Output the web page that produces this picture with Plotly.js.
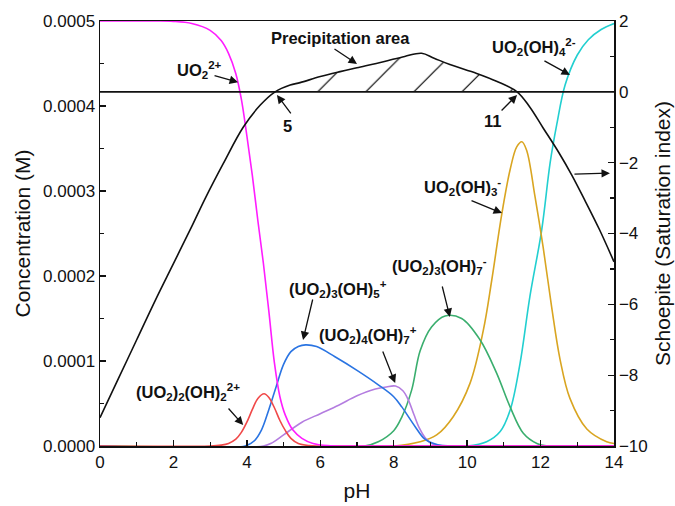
<!DOCTYPE html>
<html>
<head>
<meta charset="utf-8">
<script src="https://cdn.plot.ly/plotly-3.0.1.min.js"></script>
<style>
  html, body { margin: 0; padding: 0; background: #fff; }
  #chart { width: 675px; height: 506px; }
</style>
</head>
<body>
<div id="chart"></div>
<script>
// Uranyl speciation vs pH (left axis, M) and schoepite saturation index (right axis)

// UO2^2+
const phUO2 = [0, 1.5, 2.0, 2.5, 3.0, 3.3, 3.5, 3.7, 3.85, 4.0, 4.15, 4.3, 4.45, 4.6, 4.75, 4.9, 5.05, 5.25, 5.5, 5.8, 6.2, 7, 14];
const cUO2 = [5.0e-4, 5.0e-4, 4.995e-4, 4.97e-4, 4.89e-4, 4.77e-4, 4.62e-4, 4.38e-4, 4.08e-4, 3.65e-4, 3.18e-4, 2.65e-4, 2.15e-4, 1.58e-4, 9.8e-5, 5.8e-5, 3.6e-5, 1.9e-5, 9e-6, 3e-6, 5e-7, 0, 0];

// (UO2)2(OH)2^2+
const phUO2_2 = [0, 3.0, 3.3, 3.5, 3.7, 3.85, 4.0, 4.15, 4.3, 4.47, 4.6, 4.75, 4.9, 5.05, 5.2, 5.4, 5.7, 6.0, 14];
const cUO2_2 = [0, 0, 1e-6, 3e-6, 8e-6, 1.6e-5, 2.8e-5, 4.3e-5, 5.6e-5, 6.15e-5, 5.7e-5, 4.5e-5, 3.0e-5, 1.8e-5, 9e-6, 3e-6, 5e-7, 0, 0];

// (UO2)3(OH)5^+
const phUO2_35 = [0, 3.95, 4.2, 4.4, 4.6, 4.8, 5.0, 5.2, 5.4, 5.6, 5.9, 6.4, 7.0, 7.58, 8.0, 8.22, 8.58, 8.85, 9.2, 9.6, 14];
const cUO2_35 = [0, 0, 6e-6, 1.9e-5, 4.3e-5, 7.0e-5, 9.6e-5, 1.11e-4, 1.17e-4, 1.19e-4, 1.17e-4, 1.05e-4, 8.9e-5, 7.2e-5, 5.8e-5, 4.6e-5, 2.3e-5, 8e-6, 1.5e-6, 0, 0];

// (UO2)4(OH)7^+
const phUO2_47 = [0, 4.45, 4.7, 5.0, 5.5, 6.0, 6.5, 7.0, 7.5, 7.8, 8.05, 8.25, 8.4, 8.55, 8.7, 8.85, 9.0, 9.2, 9.5, 14];
const cUO2_47 = [0, 0, 4e-6, 1.3e-5, 2.8e-5, 3.8e-5, 4.8e-5, 5.9e-5, 6.7e-5, 6.95e-5, 7.05e-5, 6.5e-5, 5.4e-5, 3.7e-5, 2.1e-5, 1.0e-5, 3.5e-6, 8e-7, 0, 0];

// (UO2)3(OH)7^-
const phUO2_37 = [0, 7.2, 7.58, 8.0, 8.22, 8.49, 8.72, 9.03, 9.4, 9.85, 10.35, 10.8, 11.17, 11.53, 11.9, 12.2, 14];
const cUO2_37 = [0, 0, 5e-6, 1.8e-5, 3.4e-5, 6.6e-5, 1.12e-4, 1.40e-4, 1.53e-4, 1.50e-4, 1.25e-4, 8.6e-5, 4.6e-5, 1.5e-5, 3e-6, 0, 0];

// UO2(OH)3^-
const phUO2OH3 = [0, 8.0, 8.72, 9.17, 9.62, 10.08, 10.44, 10.67, 10.94, 11.17, 11.35, 11.49, 11.62, 11.85, 12.07, 12.3, 12.53, 12.8, 13.26, 13.8, 14];
const cUO2OH3 = [0, 0, 5e-6, 1.3e-5, 3.45e-5, 7.4e-5, 1.36e-4, 1.95e-4, 2.72e-4, 3.25e-4, 3.52e-4, 3.58e-4, 3.48e-4, 2.93e-4, 2.34e-4, 1.64e-4, 1.02e-4, 5.6e-5, 2.0e-5, 5e-6, 3e-6];

// UO2(OH)4^2-
const phUO2OH4 = [0, 10.0, 10.53, 10.9, 11.17, 11.44, 11.71, 12.03, 12.26, 12.44, 12.67, 13.0, 13.3, 13.65, 14];
const cUO2OH4 = [0, 0, 5e-6, 1.7e-5, 4.2e-5, 9.7e-5, 1.76e-4, 2.54e-4, 3.33e-4, 3.78e-4, 4.25e-4, 4.6e-4, 4.78e-4, 4.9e-4, 4.97e-4];

// Schoepite saturation index
const phSI = [0, 0.5, 1.0, 1.5, 2.0, 2.5, 2.86, 3.36, 3.9, 4.36, 4.77, 5.18, 5.45, 6.0, 6.54, 7.0, 7.72, 8.3, 8.76, 9.1, 9.53, 10.26, 10.8, 11.36, 11.7, 12.07, 12.5, 12.85, 13.2, 13.6, 14];
const siSchoepite = [-9.2, -8.1, -7.0, -5.9, -4.85, -3.8, -3.02, -2.02, -1.0, -0.38, 0, 0.19, 0.26, 0.43, 0.57, 0.68, 0.85, 1.0, 1.09, 0.95, 0.77, 0.52, 0.3, 0, -0.42, -1.02, -1.72, -2.35, -3.05, -3.88, -4.8];

const FONT = 'Liberation Sans, Arial, sans-serif';
const SMOOTH = 1.0;

function speciesTrace(x, y, color) {
  return {
    x: x, y: y, type: 'scatter', mode: 'lines',
    line: { color: color, width: 1.6, shape: 'spline', smoothing: SMOOTH },
    hoverinfo: 'skip', showlegend: false
  };
}

// Supersaturated part of the SI curve (SI >= 0), hatched
const hatchX = [], hatchY = [];
phSI.forEach((p, i) => {
  if (siSchoepite[i] >= 0 && p > 4 && p < 12) { hatchX.push(p); hatchY.push(siSchoepite[i]); }
});

const traces = [
  {
    x: hatchX, y: hatchY, yaxis: 'y2', type: 'scatter', mode: 'lines',
    line: { width: 0, shape: 'spline', smoothing: SMOOTH },
    fill: 'toself', fillcolor: 'rgba(0,0,0,0)',
    fillpattern: { shape: '/', size: 34, solidity: 0.035, fgcolor: '#000', bgcolor: 'rgba(0,0,0,0)' },
    hoverinfo: 'skip', showlegend: false
  },
  speciesTrace(phUO2OH4, cUO2OH4, '#22cfd0'),
  speciesTrace(phUO2OH3, cUO2OH3, '#d9a521'),
  speciesTrace(phUO2_37, cUO2_37, '#3aae6e'),
  speciesTrace(phUO2_47, cUO2_47, '#b47de0'),
  speciesTrace(phUO2_35, cUO2_35, '#2a74e2'),
  speciesTrace(phUO2_2, cUO2_2, '#f04848'),
  speciesTrace(phUO2, cUO2, '#ff1cff'),
  {
    x: phSI, y: siSchoepite, yaxis: 'y2', type: 'scatter', mode: 'lines',
    line: { color: '#111', width: 1.6, shape: 'spline', smoothing: SMOOTH },
    hoverinfo: 'skip', showlegend: false
  }
];

const labelFont = { family: FONT, size: 16.5, color: '#111' };

function label(text, x, y) {
  return { text: '<b>' + text + '</b>', x: x, y: y, xref: 'x', yref: 'y',
           showarrow: false, xanchor: 'center', yanchor: 'middle', font: labelFont };
}
function pointer(x, y, ax, ay) {
  return { text: '', x: x, y: y, xref: 'x', yref: 'y', ax: ax, ay: ay,
           showarrow: true, arrowhead: 2, arrowsize: 1.3, arrowwidth: 1.3,
           arrowcolor: '#111', standoff: 0, startstandoff: 0 };
}

const annotations = [
  label('UO<sub>2</sub><sup>2+</sup>', 2.70, 4.42e-4),
  pointer(3.76, 4.28e-4, -25, -7),
  label('Precipitation area', 6.54, 4.8e-4),
  pointer(7.0, 4.494e-4, -24, -16),
  label('5', 5.12, 3.765e-4),
  pointer(4.82, 4.13e-4, 15, 20),
  label('11', 10.70, 3.82e-4),
  pointer(11.36, 4.13e-4, -17, 17),
  pointer(13.89, 3.21e-4, -37, 1),
  label('UO<sub>2</sub>(OH)<sub>4</sub><sup>2-</sup>', 11.82, 4.69e-4),
  pointer(12.8, 4.365e-4, -27, -15),
  label('UO<sub>2</sub>(OH)<sub>3</sub><sup>-</sup>', 9.86, 3.05e-4),
  pointer(10.95, 2.74e-4, -32, -13),
  label('(UO<sub>2</sub>)<sub>3</sub>(OH)<sub>7</sub><sup>-</sup>', 9.25, 2.12e-4),
  pointer(9.53, 1.518e-4, -8, -32),
  label('(UO<sub>2</sub>)<sub>4</sub>(OH)<sub>7</sub><sup>+</sup>', 7.30, 1.306e-4),
  pointer(8.04, 7.41e-5, -13, -33),
  label('(UO<sub>2</sub>)<sub>3</sub>(OH)<sub>5</sub><sup>+</sup>', 6.48, 1.85e-4),
  pointer(5.53, 1.247e-4, 10, -42),
  label('(UO<sub>2</sub>)<sub>2</sub>(OH)<sub>2</sub><sup>2+</sup>', 2.40, 6.4e-5),
  pointer(3.9, 2.47e-5, -16, -18)
];

const axisCommon = {
  showline: true, linecolor: '#111', linewidth: 1.5,
  ticks: 'inside', ticklen: 6, tickwidth: 1.3, tickcolor: '#111',
  showgrid: false, zeroline: false,
  tickfont: { family: FONT, size: 17, color: '#111' }
};

const layout = {
  width: 675, height: 506,
  margin: { l: 100, r: 61, t: 21, b: 60 },
  paper_bgcolor: '#fff', plot_bgcolor: '#fff',
  showlegend: false,
  xaxis: Object.assign({}, axisCommon, {
    range: [0, 14], dtick: 2, tick0: 0, mirror: true,
    minor: { dtick: 1, ticks: 'inside', ticklen: 4, tickcolor: '#111', tickwidth: 1.2 },
    title: { text: 'pH', font: { family: FONT, size: 21, color: '#111' }, standoff: 12 }
  }),
  yaxis: Object.assign({}, axisCommon, {
    range: [0, 0.0005], dtick: 0.0001, tick0: 0, tickformat: '.4f',
    minor: { dtick: 0.00005, ticks: 'inside', ticklen: 4, tickcolor: '#111', tickwidth: 1.2 },
    title: { text: 'Concentration (M)', font: { family: FONT, size: 21, color: '#111' }, standoff: 6 }
  }),
  yaxis2: Object.assign({}, axisCommon, {
    overlaying: 'y', side: 'right', range: [-10, 2], dtick: 2, tick0: -10,
    minor: { dtick: 1, ticks: 'inside', ticklen: 4, tickcolor: '#111', tickwidth: 1.2 },
    title: { text: 'Schoepite (Saturation index)', font: { family: FONT, size: 21, color: '#111' }, standoff: 8 }
  }),
  shapes: [
    // SI = 0 reference line
    { type: 'line', xref: 'paper', x0: 0, x1: 1, yref: 'y2', y0: 0, y1: 0,
      line: { color: '#111', width: 1.6 } }
  ],
  annotations: annotations
};

Plotly.newPlot('chart', traces, layout, { staticPlot: true, displayModeBar: false });
</script>
</body>
</html>
